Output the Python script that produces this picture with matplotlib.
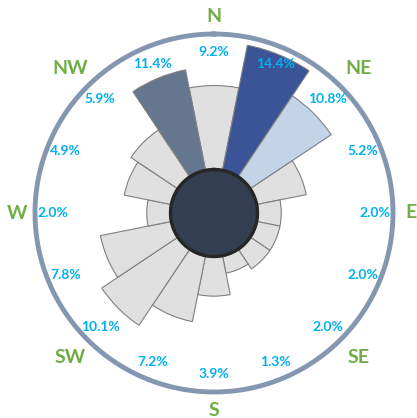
import numpy as np
from matplotlib import pyplot as plt

# wind frequency per direction (%), clockwise from north
directions = ["N", "NNE", "NE", "ENE", "E", "ESE", "SE", "SSE",
              "S", "SSW", "SW", "WSW", "W", "WNW", "NW", "NNW"]
frequency = [9.2, 14.4, 10.8, 5.2, 2.0, 2.0, 2.0, 1.3,
             3.9, 7.2, 10.1, 7.8, 2.0, 4.9, 5.9, 11.4]
compass_labels = ["N", "NE", "E", "SE", "S", "SW", "W", "NW"]

# highlighted sectors
highlight = {"NNE": "#3b5497", "NE": "#c2d5e8", "NNW": "#64778f"}
base_color = "#e0e0e0"

# radial scale in pixels: hole + value * px per percent
r_hole = 50.5
px_per_pct = 8.37
r_max = 205


def to_radius(v):
    return r_hole + px_per_pct * np.asarray(v)


fig = plt.figure(figsize=(4.17, 4.18), dpi=100)
ax = fig.add_axes([9 / 417, 0, 410 / 417, 410 / 418], polar=True)
ax.set_theta_zero_location("N")
ax.set_theta_direction(-1)
ax.set_ylim(0, r_max)
ax.set_axis_off()

n = len(directions)
theta = np.arange(n) * 2 * np.pi / n
colors = [highlight.get(d, base_color) for d in directions]

ax.bar(theta, to_radius(frequency), width=2 * np.pi / n, bottom=0,
       color=colors, edgecolor="#808080", linewidth=0.8, zorder=2)

# dark centre disk
circ = np.linspace(0, 2 * np.pi, 400)
ax.fill(circ, np.full_like(circ, 44), color="#333f50", zorder=3)
ax.plot(circ, np.full_like(circ, 43.5), color="#262626", lw=2.4, zorder=4)

# outer ring
ax.plot(circ, np.full_like(circ, 179), color="#8497b0", lw=3.5, zorder=1)

# percentage labels
for t, v in zip(theta, frequency):
    ax.text(t, 161, f"{v:.1f}%", ha="center", va="center",
            color="#00b0f0", fontsize=10, fontweight="bold",
            family="Lato", zorder=5)

# compass labels
comp_theta = np.arange(len(compass_labels)) * 2 * np.pi / len(compass_labels)
for i, (t, lab) in enumerate(zip(comp_theta, compass_labels)):
    r = 197 if i % 2 == 0 else 204
    ax.text(t, r, lab, ha="center", va="center", color="#70ad47",
            fontsize=14, fontweight="bold", family="Lato", zorder=5)

fig.savefig("out.png", dpi=100)
